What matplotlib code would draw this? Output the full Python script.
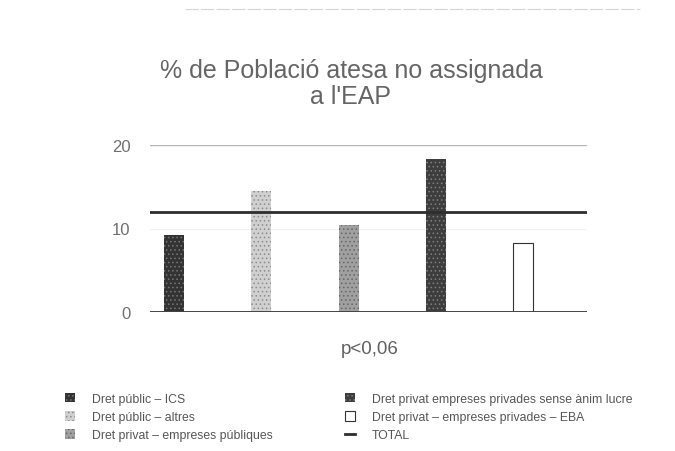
import matplotlib
matplotlib.use("Agg")
import matplotlib.pyplot as plt
from matplotlib.lines import Line2D

plt.rcParams['font.family'] = ['Liberation Sans', 'DejaVu Sans']
plt.rcParams['hatch.linewidth'] = 0.6

# Data
categories = [
    "Dret públic – ICS",
    "Dret públic – altres",
    "Dret privat – empreses públiques",
    "Dret privat empreses privades sense ànim lucre",
    "Dret privat – empreses privades – EBA",
]
values = [9.2, 14.5, 10.4, 18.3, 8.3]
total_value = 12.0
total_label = "TOTAL"
title = "% de Població atesa no assignada\na l'EAP"
note = "p<0,06"
yticks = [0, 10, 20]

# Styling per series
faces = ["#333333", "#d0d0d0", "#a0a0a0", "#3d3d3d", "#ffffff"]
hatch_cols = ["#777777", "#8c8c8c", "#666666", "#808080", "#333333"]
hatches = ["....", "....", "....", "....", None]

fig = plt.figure(figsize=(6.75, 4.52), dpi=100)
fig.patch.set_facecolor("white")
ax = fig.add_axes([150 / 675, 1 - 313 / 452, 437 / 675, 167 / 452])

bars = []
for i, (lab, v) in enumerate(zip(categories, values)):
    b = ax.bar(i, v, width=0.23, color=faces[i], edgecolor=hatch_cols[i],
               linewidth=0.8 if hatches[i] is None else 0.0,
               hatch=hatches[i], label=lab, zorder=3)
    bars.append(b)

tot = ax.axhline(total_value, color="#2e2e2e", lw=2.0, zorder=4, label=total_label)

ax.set_xlim(-0.275, 4.73)
ax.set_ylim(0, 20)
ax.set_yticks(yticks)
ax.set_xticks([])
ax.tick_params(axis="y", length=0, pad=14, labelsize=12, labelcolor="#707070")
for s in ax.spines.values():
    s.set_visible(False)
ax.axhline(20, color="#b5b5b5", lw=1.0, zorder=1)
ax.axhline(10, color="#f0f0f0", lw=0.8, zorder=1)
ax.axhline(0, color="#444444", lw=1.4, zorder=5)

fig.text(351 / 675, 1 - 84 / 452, title, ha="center", va="center",
         fontsize=18, color="#656565", linespacing=1.15)
fig.text(370 / 675, 1 - 350 / 452, note, ha="center", va="center",
         fontsize=13.5, color="#606060")

# faint rule across the top of the page
fig.add_artist(Line2D([185 / 675, 640 / 675], [1 - 10 / 452, 1 - 10 / 452],
                      color="#d5d5d5", lw=0.8, ls=(0, (12, 2))))

common = dict(frameon=False, fontsize=8.8, handlelength=0.8, handleheight=0.8,
              handletextpad=1.4, labelspacing=0.5, borderpad=0, borderaxespad=0,
              loc="upper left", labelcolor="#555555")
leg1 = fig.legend(handles=[bars[0], bars[1], bars[2]], labels=categories[:3],
                  bbox_to_anchor=(65 / 675, 1 - 394 / 452), **common)
leg2 = fig.legend(handles=[bars[3], bars[4], tot],
                  labels=[categories[3], categories[4], total_label],
                  bbox_to_anchor=(345 / 675, 1 - 394 / 452), **common)

fig.savefig("out.png", dpi=100, facecolor="white")
